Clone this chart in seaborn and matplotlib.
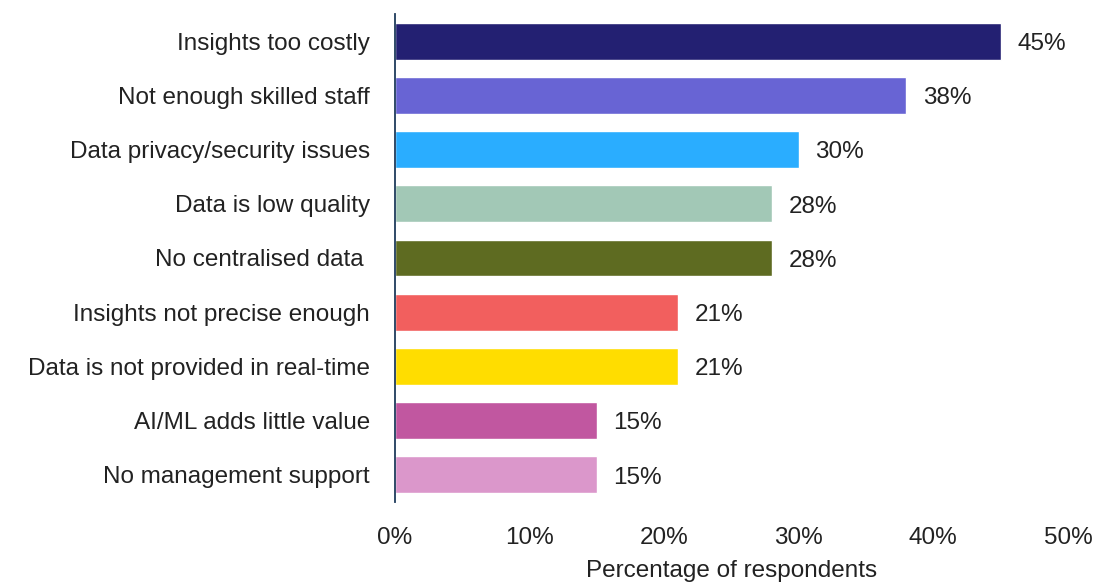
import matplotlib
matplotlib.use("Agg")
import matplotlib.pyplot as plt
import seaborn as sns
import pandas as pd
from matplotlib.ticker import PercentFormatter

categories = [
    "Insights too costly",
    "Not enough skilled staff",
    "Data privacy/security issues",
    "Data is low quality",
    "No centralised data ",
    "Insights not precise enough",
    "Data is not provided in real-time",
    "AI/ML adds little value",
    "No management support",
]
values = [45, 38, 30, 28, 28, 21, 21, 15, 15]
colors = [
    "#232072", "#6864D4", "#2AADFF", "#A2C8B6", "#5E6B21",
    "#F25F5E", "#FFDD00", "#C157A0", "#DB97CB",
]
x_ticks = [0, 10, 20, 30, 40, 50]

sns.set_theme(style="white")
plt.rcParams["font.family"] = ["Liberation Sans", "DejaVu Sans"]

df = pd.DataFrame({"reason": categories, "pct": values})

fig = plt.figure(figsize=(10.95, 5.85), dpi=100)
ax = fig.add_axes([0.3607, 0.142, 0.9753 - 0.3607, 0.976 - 0.142])

sns.barplot(
    data=df, x="pct", y="reason", hue="reason",
    palette=dict(zip(categories, colors)), legend=False,
    width=0.68, saturation=1, ax=ax,
)

# value labels just past the end of each bar
for i, v in enumerate(values):
    ax.annotate(f"{v:.0f}%", xy=(v, i), xytext=(12, -2), textcoords="offset points",
                ha="left", va="center", fontsize=17.5, color="#222222")

ax.set_xlim(0, 50)
ax.set_ylim(8.5, -0.5)
ax.set_xticks(x_ticks)
ax.xaxis.set_major_formatter(PercentFormatter(decimals=0))
ax.tick_params(axis="x", length=0, pad=18, labelsize=17.5, labelcolor="#222222")
ax.tick_params(axis="y", length=0, pad=18, labelsize=17.5, labelcolor="#222222")
ax.set_ylabel("")
ax.set_xlabel("Percentage of respondents", fontsize=17.5, color="#222222", labelpad=8)

for side in ["top", "right", "bottom"]:
    ax.spines[side].set_visible(False)
ax.spines["left"].set_color("#1F3B5C")
ax.spines["left"].set_linewidth(1.3)

fig.savefig("out.png", dpi=100)
